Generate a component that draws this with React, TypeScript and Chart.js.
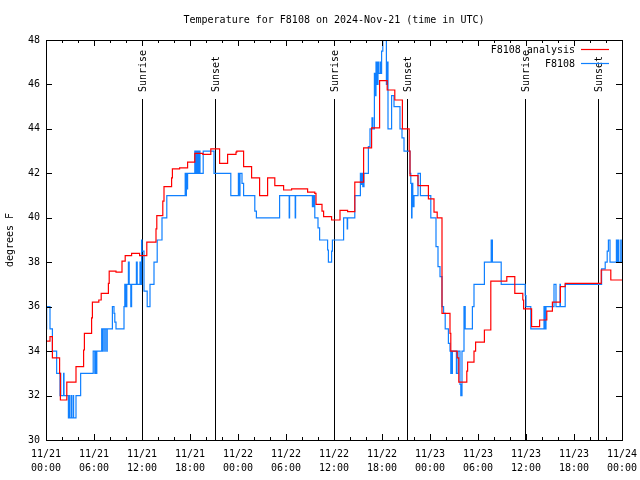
import React, { useEffect, useRef } from 'react';
import { Chart, registerables } from 'chart.js';

Chart.register(...registerables);

const FONT = '"DejaVu Sans Mono", monospace';

const chartTitle = 'Temperature for F8108 on 2024-Nov-21 (time in UTC)';
const yAxisLabel = 'degrees F';
const seriesNames = ['F8108 analysis', 'F8108'];
const seriesColors = ['#ff0000', '#1080ff'];

const tickDays = ['11/21', '11/21', '11/21', '11/21', '11/22', '11/22', '11/22', '11/22', '11/23', '11/23', '11/23', '11/23', '11/24'];
const tickTimes = ['00:00', '06:00', '12:00', '18:00', '00:00', '06:00', '12:00', '18:00', '00:00', '06:00', '12:00', '18:00', '00:00'];

// hours since 11/21 00:00 UTC
const sunEventHours = [12.0, 21.125, 36.0, 45.125, 59.875, 69.0];
const sunEventLabels = ['Sunrise', 'Sunset', 'Sunrise', 'Sunset', 'Sunrise', 'Sunset'];

// analysis: value changes to temp at given hour
const analysisHours = [
  0, 0.5, 0.8, 1.7, 1.8, 2.6, 3.75, 4.7, 4.8, 5.7, 5.8, 6.6, 6.9, 7.8, 7.9, 8.75, 9.5, 9.9, 10.7, 11.7,
  12.6, 13.75, 13.85, 14.6, 14.75, 15.7, 15.8, 16.7, 17.7, 18.6, 19.6, 20.6, 21.7, 22.7, 23.75, 23.85,
  24.7, 25.7, 26.7, 27.7, 28.6, 29.7, 30.7, 32.7, 33.6, 33.75, 34.5, 34.7, 35.7, 36.75, 37.7, 38.6,
  39.7, 40.7, 41.7, 42.65, 43.6, 44.55, 45.4, 45.5, 46.5, 47.8, 48.5, 48.9, 49.5, 50.5, 50.6, 51.4,
  51.6, 52.6, 52.7, 53.5, 53.7, 54.8, 55.6, 57.6, 58.6, 59.6, 59.7, 60.7, 61.7, 62.6, 63.3, 64.3,
  64.9, 69.4, 70.6, 72,
];
const analysisTemps = [
  34.45, 34.65, 33.7, 33.0, 31.8, 32.6, 33.3, 34.05, 34.8, 35.5, 36.2, 36.3, 36.6, 37.05, 37.6, 37.55, 38.05, 38.3, 38.4, 38.3,
  38.9, 39.5, 40.1, 40.75, 41.4, 41.8, 42.2, 42.25, 42.5, 42.9, 42.85, 43.1, 42.45, 42.85, 42.95, 43.0,
  42.3, 41.8, 41.0, 41.8, 41.45, 41.25, 41.3, 41.15, 41.1, 40.6, 40.3, 40.05, 39.9, 40.33, 40.28, 41.6,
  43.15, 44.05, 46.17, 45.75, 45.3, 44.0, 43.0, 41.9, 41.45, 40.85, 40.25, 40.0, 35.7, 34.8, 34.0, 33.7,
  32.6, 33.1, 33.5, 34.0, 34.4, 34.95, 37.15, 37.35, 36.6, 36.3, 35.9, 35.1, 35.4, 35.8, 36.2, 36.9,
  37.05, 37.65, 37.2, 37.2,
];

// observations
const obsHours = [
  0, 0.08, 0.5, 0.8, 1.33, 1.75, 1.8, 1.85, 2.2, 2.25, 2.8, 2.9, 2.95, 3.15, 3.2, 3.4, 3.45, 3.75, 4.33,
  5.9, 6.1, 6.15, 6.3, 6.35, 6.96, 7.1, 7.15, 7.35, 7.4, 7.6, 7.65, 8.3, 8.5, 8.6, 8.75, 9.75, 9.85, 10.0,
  10.1, 10.3, 10.4, 10.6, 10.7, 11.3, 11.4, 11.75, 11.85, 11.95, 12.0, 12.25, 12.65, 13.0, 13.5, 13.9,
  14.5, 15.1, 17.4, 17.5, 17.55, 17.65, 17.7, 18.6, 18.65, 18.8, 18.85, 19.0, 19.05, 19.2, 19.25, 19.65,
  21.0, 23.1, 24.05, 24.1, 24.25, 24.5, 24.7, 26.1, 26.3, 29.2, 30.4, 30.45, 31.15, 31.2, 33.3, 33.45,
  33.6, 34.0, 34.2, 35.2, 35.3, 35.7, 35.8, 37.2, 37.65, 37.7, 38.6, 39.3, 39.4, 39.5, 39.6, 39.75, 40.3,
  40.5, 40.75, 40.85, 41.05, 41.15, 41.25, 41.35, 41.5, 41.55, 41.75, 41.85, 41.95, 42.1, 42.3, 42.45,
  42.55, 42.65, 42.75, 43.2, 43.5, 44.25, 44.5, 44.75, 45.5, 45.6, 45.7, 45.75, 45.85, 46.0, 46.5, 46.8,
  48.1, 48.75, 49.0, 49.25, 49.5, 49.7, 49.9, 50.3, 50.5, 50.6, 50.65, 50.75, 50.8, 51.3, 51.5, 51.75,
  51.85, 52.0, 52.25, 52.4, 53.3, 53.5, 54.8, 55.65, 55.8, 56.9, 59.9, 60.0, 60.6, 62.25, 62.3, 62.4,
  62.45, 62.5, 63.5, 63.75, 64.25, 64.3, 64.9, 69.45, 69.9, 70.15, 70.3, 70.5, 71.3, 71.35, 71.5, 71.6,
  71.85, 71.9, 72,
];
const obsTemps = [
  35.0, 36.0, 35.0, 34.0, 33.0, 32.0, 33.0, 32.0, 33.0, 32.0, 31.0, 32.0, 31.0, 32.0, 31.0, 32.0, 31.0, 32.0, 33.0,
  34.0, 33.0, 34.0, 33.0, 34.0, 35.0, 34.0, 35.0, 34.0, 35.0, 34.0, 35.0, 36.0, 35.7, 35.3, 35.0, 36.0, 37.0, 36.0,
  37.0, 38.0, 37.0, 36.0, 37.0, 38.0, 37.0, 38.0, 37.0, 39.0, 38.5, 36.7, 36.0, 37.0, 38.0, 39.0,
  40.0, 41.0, 42.0, 41.0, 42.0, 41.3, 42.0, 43.0, 42.0, 43.0, 42.0, 43.0, 42.0, 43.0, 42.0, 43.0,
  42.0, 41.0, 42.0, 41.0, 42.0, 41.55, 41.0, 40.3, 40.0, 41.0, 40.0, 41.0, 40.0, 41.0, 40.5, 41.0,
  40.0, 39.55, 39.0, 38.55, 38.0, 38.5, 39.0, 40.0, 39.5, 40.0, 41.0, 42.0, 41.5, 42.0, 41.4, 42.0, 43.2,
  44.0, 44.5, 44.0, 46.5, 45.5, 47.0, 46.0, 47.0, 46.5, 47.0, 46.5, 47.5, 48.0, 48.6, 48.0,
  46.0, 47.0, 44.0, 45.5, 45.0, 44.0, 43.6, 43.0, 42.0, 41.55, 40.0, 41.55, 40.5, 41.0, 42.0, 41.0,
  40.0, 38.7, 37.8, 37.35, 36.0, 35.7, 35.0, 34.35, 34.0, 33.0, 34.0, 33.0, 34.0, 33.0, 34.0, 32.5,
  32.0, 34.0, 36.0, 35.0, 36.0, 37.0, 38.0, 39.0, 38.0, 37.0, 36.5, 36.0, 35.0, 36.0, 35.0, 36.0,
  35.0, 36.0, 37.0, 36.0, 37.0, 36.0, 37.0, 37.7, 38.0, 38.5, 39.0, 38.0, 39.0, 38.0, 39.0, 38.0,
  39.0, 38.0, 38.0,
];

const toPoints = (xs: number[], ys: number[]) => xs.map((x, i) => ({ x, y: ys[i] }));

const decorPlugin = {
  id: 'gnuplotDecor',
  beforeDatasetsDraw(chart: any) {
    const { ctx, chartArea: a, scales } = chart;
    const xs = scales.x;
    ctx.save();
    ctx.strokeStyle = '#000';
    ctx.fillStyle = '#000';
    ctx.lineWidth = 1;
    ctx.font = `10px ${FONT}`;
    sunEventHours.forEach((h, i) => {
      const px = Math.round(xs.getPixelForValue(h)) + 0.5;
      const topPx = a.top + 59;
      ctx.beginPath();
      ctx.moveTo(px, topPx);
      ctx.lineTo(px, a.bottom);
      ctx.stroke();
      ctx.save();
      ctx.translate(px + 1, topPx - 7);
      ctx.rotate(-Math.PI / 2);
      ctx.textAlign = 'left';
      ctx.textBaseline = 'middle';
      ctx.fillText(sunEventLabels[i], 0, 0);
      ctx.restore();
    });
    ctx.restore();
  },
  afterDatasetsDraw(chart: any) {
    const { ctx, chartArea: a, scales } = chart;
    const xs = scales.x;
    const ys = scales.y;
    ctx.save();
    ctx.strokeStyle = '#000';
    ctx.lineWidth = 1;
    // frame
    ctx.strokeRect(a.left + 0.5, a.top + 0.5, a.right - a.left, a.bottom - a.top);
    // x ticks (inward, mirrored)
    ctx.beginPath();
    for (let h = 0; h <= 72; h += 2) {
      const px = Math.round(xs.getPixelForValue(h)) + 0.5;
      const len = h % 6 === 0 ? 6 : 3;
      ctx.moveTo(px, a.bottom);
      ctx.lineTo(px, a.bottom - len);
      ctx.moveTo(px, a.top);
      ctx.lineTo(px, a.top + len);
    }
    for (let t = 30; t <= 48; t += 2) {
      const py = Math.round(ys.getPixelForValue(t)) + 0.5;
      ctx.moveTo(a.left, py);
      ctx.lineTo(a.left + 6, py);
      ctx.moveTo(a.right, py);
      ctx.lineTo(a.right - 6, py);
    }
    ctx.stroke();
    // title
    ctx.fillStyle = '#000';
    ctx.font = `10px ${FONT}`;
    ctx.textAlign = 'center';
    ctx.textBaseline = 'middle';
    ctx.fillText(chartTitle, (a.left + a.right) / 2, 20);
    // legend
    ctx.textAlign = 'right';
    const rows = [a.top + 10, a.top + 24];
    seriesNames.forEach((name, i) => {
      ctx.fillStyle = '#000';
      ctx.fillText(name, a.right - 47, rows[i]);
      ctx.strokeStyle = seriesColors[i];
      ctx.lineWidth = 1.2;
      ctx.beginPath();
      ctx.moveTo(a.right - 41, rows[i] - 0.5);
      ctx.lineTo(a.right - 13, rows[i] - 0.5);
      ctx.stroke();
    });
    ctx.restore();
  },
};

export default function App() {
  const canvasRef = useRef<HTMLCanvasElement | null>(null);

  useEffect(() => {
    if (!canvasRef.current) return;
    const chart = new Chart(canvasRef.current, {
      type: 'line',
      data: {
        datasets: [
          {
            label: seriesNames[0],
            data: toPoints(analysisHours, analysisTemps),
            borderColor: seriesColors[0],
            borderWidth: 1.2,
            stepped: 'before',
            pointRadius: 0,
            fill: false,
            clip: 0,
          },
          {
            label: seriesNames[1],
            data: toPoints(obsHours, obsTemps),
            borderColor: seriesColors[1],
            borderWidth: 1.2,
            stepped: 'before',
            pointRadius: 0,
            fill: false,
            clip: 0,
          },
        ],
      },
      options: {
        animation: false,
        responsive: false,
        maintainAspectRatio: false,
        devicePixelRatio: 1,
        parsing: false,
        layout: { autoPadding: false, padding: { top: 40, right: 18, left: 0, bottom: 0 } },
        plugins: {
          legend: { display: false },
          title: { display: false },
          tooltip: { enabled: false },
        },
        scales: {
          x: {
            type: 'linear',
            min: 0,
            max: 72,
            afterFit: (s: any) => {
              s.height = 40;
              s.paddingLeft = 0;
              s.paddingRight = 0;
            },
            grid: { display: false, drawTicks: false },
            border: { display: false },
            ticks: {
              stepSize: 6,
              autoSkip: false,
              maxRotation: 0,
              padding: 7,
              color: '#000',
              font: { family: FONT, size: 10, lineHeight: 1.4 },
              callback: (v: any) => {
                const i = Math.round(Number(v) / 6);
                return [tickDays[i], tickTimes[i]];
              },
            },
          },
          y: {
            min: 30,
            max: 48,
            afterFit: (s: any) => {
              s.width = 46;
              s.paddingTop = 0;
              s.paddingBottom = 0;
            },
            grid: { display: false, drawTicks: false },
            border: { display: false },
            title: {
              display: true,
              text: yAxisLabel,
              color: '#000',
              font: { family: FONT, size: 10, lineHeight: 1.2 },
              padding: { top: 4, bottom: 4 },
            },
            ticks: {
              stepSize: 2,
              padding: 6,
              color: '#000',
              font: { family: FONT, size: 10 },
              callback: (v: any) => String(v),
            },
          },
        },
      },
      plugins: [decorPlugin],
    } as any);
    return () => chart.destroy();
  }, []);

  return (
    <div style={{ position: 'fixed', left: 0, top: 0, width: 640, height: 480, background: '#fff' }}>
      <canvas ref={canvasRef} width={640} height={480} />
    </div>
  );
}
